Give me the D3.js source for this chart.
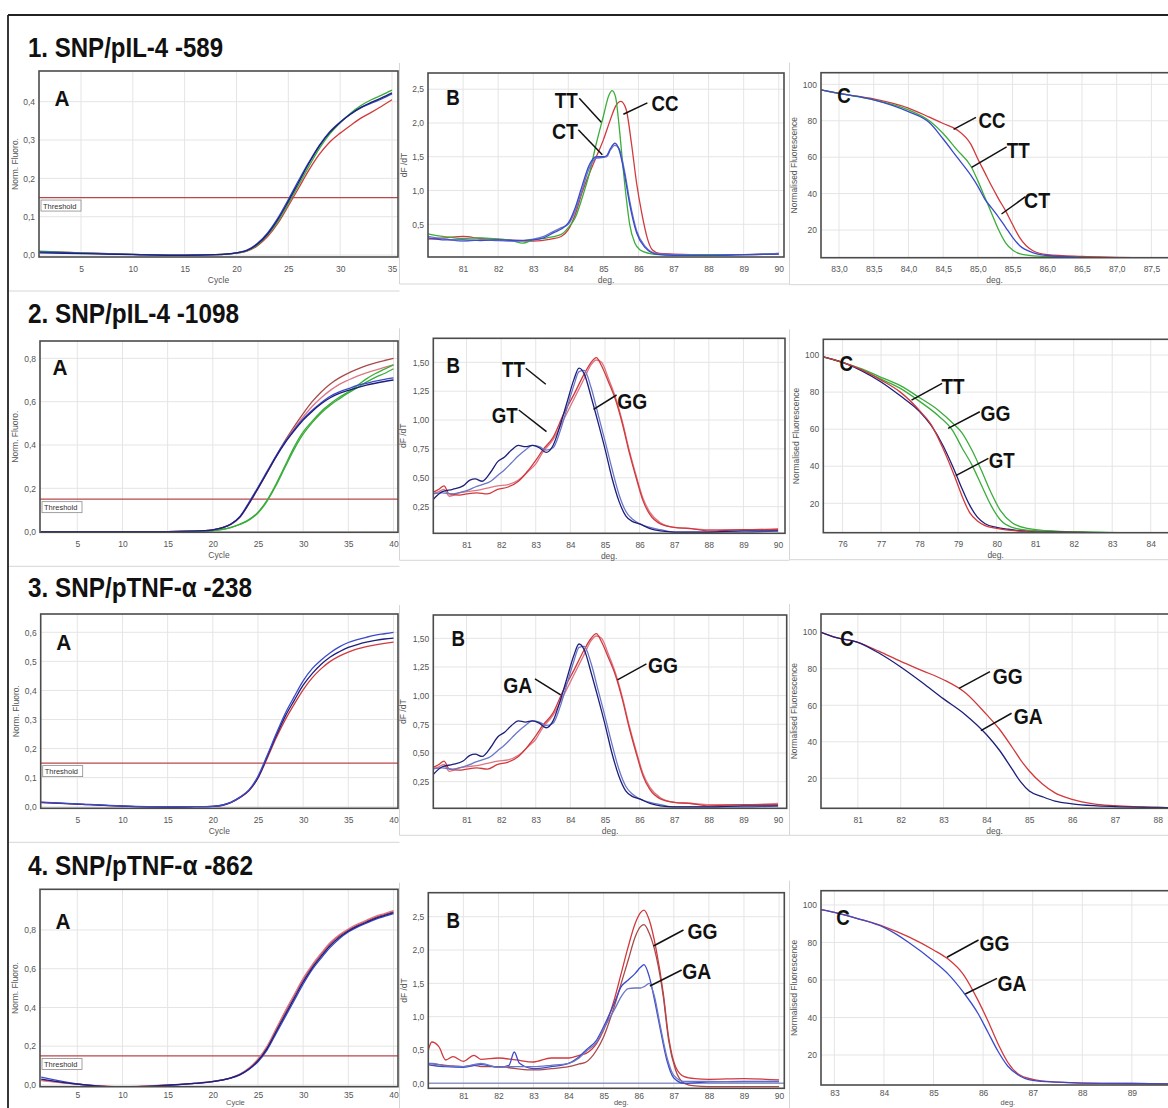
<!DOCTYPE html>
<html>
<head>
<meta charset="utf-8">
<script src="https://cdn.jsdelivr.net/npm/d3@7"></script>
<style>
  body { margin: 0; background: #fff; }
  svg { display: block; }
  .tick text { font-family: "Liberation Sans", Arial, sans-serif; font-size: 8.5px; fill: #555; }
  .axtitle { font-family: "Liberation Sans", Arial, sans-serif; font-size: 8.5px; fill: #555; }
  .big { font-family: "Liberation Sans Narrow", "Arial Narrow", "Liberation Sans", Arial, sans-serif; font-weight: bold; fill: #111; }
</style>
</head>
<body>
<svg id="fig" width="1168" height="1108"></svg>
<script>
// ---- data ----
// amplification (cycle) curves
var r1Cycles = [1,5,10,15,18,20,21,22,23,24,25,26,27,28,29,30,31,32,33,34,35];
var r1aBlue  = [0.008,0.005,0.002,0,0.001,0.006,0.013,0.03,0.058,0.097,0.145,0.195,0.243,0.287,0.322,0.347,0.368,0.384,0.396,0.407,0.42];
var r1aNavy  = [0.006,0.004,0.001,-0.001,0.001,0.006,0.012,0.028,0.055,0.093,0.14,0.19,0.24,0.285,0.32,0.346,0.367,0.385,0.398,0.41,0.423];
var r1aGreen = [0.01,0.006,0.002,0,0.001,0.005,0.011,0.026,0.052,0.088,0.134,0.183,0.232,0.278,0.316,0.345,0.37,0.39,0.405,0.417,0.43];
var r1aRed   = [0.009,0.006,0.002,0,0.001,0.005,0.01,0.024,0.048,0.083,0.128,0.175,0.222,0.263,0.295,0.318,0.338,0.357,0.372,0.388,0.405];

var cycles40 = [1,5,10,15,18,20,21,22,23,24,25,26,27,28,29,30,31,32,33,34,35,36,37,38,39,40];
var r2aBlue1  = [0,0,0,0,0.002,0.008,0.018,0.035,0.07,0.135,0.205,0.278,0.35,0.415,0.47,0.52,0.56,0.595,0.625,0.645,0.66,0.675,0.685,0.695,0.703,0.71];
var r2aBlue2  = [0,0,0,0,0.002,0.008,0.017,0.034,0.068,0.13,0.2,0.272,0.345,0.41,0.465,0.515,0.555,0.59,0.618,0.638,0.652,0.665,0.676,0.685,0.693,0.70];
var r2aRed1   = [0,0,0,0,0.002,0.008,0.017,0.033,0.066,0.128,0.198,0.272,0.348,0.42,0.485,0.545,0.6,0.645,0.682,0.71,0.732,0.75,0.766,0.779,0.79,0.80];
var r2aRed2   = [0,0,0,0,0.002,0.008,0.018,0.035,0.068,0.13,0.2,0.272,0.345,0.415,0.475,0.53,0.578,0.618,0.652,0.68,0.7,0.718,0.733,0.746,0.758,0.77];
var r2aGreen1 = [0,0,0,0,0.001,0.005,0.01,0.02,0.035,0.056,0.09,0.145,0.22,0.305,0.39,0.46,0.51,0.555,0.59,0.62,0.645,0.675,0.705,0.73,0.75,0.77];
var r2aGreen2 = [0,0,0,0,0.001,0.005,0.01,0.019,0.033,0.053,0.086,0.14,0.213,0.297,0.38,0.45,0.503,0.548,0.584,0.613,0.64,0.665,0.69,0.712,0.73,0.752];

var r3aBlue = [0.016,0.01,0.003,0,0,0.001,0.005,0.015,0.033,0.058,0.105,0.175,0.25,0.32,0.378,0.433,0.475,0.505,0.53,0.55,0.565,0.575,0.583,0.59,0.595,0.6];
var r3aNavy = [0.015,0.009,0.002,-0.001,0,0.001,0.005,0.015,0.032,0.056,0.1,0.17,0.243,0.31,0.365,0.418,0.458,0.49,0.515,0.533,0.548,0.558,0.566,0.572,0.577,0.58];
var r3aRed  = [0.014,0.009,0.002,-0.001,0,0.001,0.004,0.014,0.031,0.055,0.098,0.165,0.236,0.298,0.352,0.402,0.443,0.475,0.5,0.518,0.532,0.543,0.551,0.557,0.562,0.566];

var r4aRed  = [0.025,0.005,-0.01,0,0.008,0.018,0.026,0.037,0.055,0.085,0.13,0.195,0.285,0.375,0.46,0.545,0.615,0.675,0.73,0.77,0.8,0.825,0.845,0.865,0.88,0.895];
var r4aPink = [0.022,0.004,-0.009,0,0.008,0.018,0.026,0.037,0.056,0.087,0.134,0.2,0.29,0.38,0.465,0.55,0.62,0.68,0.735,0.775,0.805,0.83,0.85,0.87,0.885,0.9];
var r4aBlue = [0.04,0.005,-0.012,-0.002,0.008,0.017,0.025,0.035,0.052,0.08,0.12,0.18,0.265,0.35,0.435,0.52,0.595,0.655,0.71,0.755,0.79,0.815,0.835,0.855,0.87,0.885];
var r4aNavy = [0.03,0.004,-0.011,-0.001,0.008,0.017,0.025,0.036,0.053,0.082,0.125,0.188,0.275,0.362,0.447,0.532,0.605,0.665,0.72,0.762,0.795,0.82,0.84,0.86,0.875,0.89];

// melt peak (dF/dT) curves
var r1bTTx = [80,80.3,80.6,81,81.5,82,82.4,82.7,83,83.4,83.8,84,84.2,84.4,84.6,84.8,85,85.15,85.25,85.35,85.45,85.55,85.65,85.75,85.9,86.05,86.3,86.6,87,88,89,90];
var r1bTTy = [0.36,0.33,0.31,0.29,0.3,0.28,0.26,0.22,0.27,0.3,0.35,0.45,0.6,0.9,1.25,1.7,2.1,2.4,2.48,2.38,1.95,1.4,0.9,0.5,0.22,0.12,0.07,0.05,0.05,0.05,0.05,0.07];
var r1bCCx = [80,80.5,81,81.5,82,82.5,83,83.5,83.8,84,84.2,84.4,84.6,84.8,85,85.2,85.35,85.5,85.65,85.8,85.95,86.1,86.25,86.4,86.6,87,88,89,90];
var r1bCCy = [0.28,0.3,0.32,0.29,0.28,0.26,0.25,0.28,0.32,0.42,0.65,0.98,1.25,1.5,1.75,2.05,2.25,2.32,2.2,1.7,1.1,0.65,0.3,0.12,0.07,0.06,0.05,0.05,0.06];
var r1bCTx = [80,80.5,81,81.5,82,82.5,83,83.3,83.6,83.8,84,84.2,84.4,84.6,84.8,85,85.1,85.2,85.33,85.45,85.6,85.75,85.95,86.2,86.5,87,88,89,90];
var r1bCTy = [0.3,0.27,0.27,0.26,0.27,0.26,0.27,0.3,0.38,0.43,0.52,0.75,1.08,1.38,1.5,1.5,1.52,1.62,1.7,1.6,1.25,0.8,0.37,0.15,0.06,0.04,0.04,0.05,0.06];
var r1bCT2y = [0.32,0.28,0.25,0.27,0.26,0.25,0.28,0.32,0.4,0.45,0.5,0.7,1.02,1.33,1.48,1.49,1.5,1.6,1.67,1.62,1.3,0.85,0.4,0.17,0.07,0.05,0.04,0.05,0.07];

var meltBlueX = [80,80.3,80.6,80.9,81.1,81.25,81.45,81.7,81.9,82.1,82.3,82.5,82.7,82.9,83.1,83.3,83.5,83.7,83.9,84.1,84.25,84.4,84.6,84.8,85,85.2,85.4,85.6,85.8,86,86.3,86.6,87,88,89,90];
var meltBlue1 = [0.3,0.38,0.4,0.43,0.48,0.49,0.47,0.55,0.64,0.68,0.74,0.78,0.77,0.78,0.76,0.72,0.78,0.95,1.15,1.35,1.45,1.4,1.2,0.98,0.75,0.5,0.3,0.17,0.12,0.1,0.06,0.04,0.03,0.03,0.04,0.04];
var meltBlue2 = [0.36,0.37,0.36,0.38,0.4,0.42,0.44,0.47,0.52,0.57,0.63,0.69,0.74,0.78,0.77,0.74,0.76,0.9,1.1,1.3,1.42,1.43,1.28,1.05,0.82,0.58,0.36,0.21,0.14,0.1,0.07,0.05,0.03,0.03,0.03,0.04];
var meltRedX  = [80,80.2,80.35,80.5,80.8,81,81.3,81.6,81.9,82.2,82.5,82.8,83,83.2,83.5,83.8,84.1,84.4,84.6,84.75,84.9,85.1,85.3,85.5,85.7,85.9,86.1,86.3,86.6,87,87.5,88,89,90];
var meltRed1  = [0.37,0.4,0.43,0.36,0.35,0.36,0.37,0.36,0.4,0.42,0.47,0.57,0.65,0.74,0.85,1.05,1.22,1.4,1.5,1.54,1.47,1.33,1.18,0.97,0.72,0.5,0.3,0.18,0.1,0.07,0.06,0.04,0.05,0.05];
var meltRed2  = [0.36,0.38,0.4,0.34,0.37,0.38,0.39,0.41,0.43,0.44,0.48,0.56,0.62,0.72,0.83,1.0,1.18,1.36,1.48,1.52,1.5,1.36,1.2,0.99,0.74,0.52,0.32,0.2,0.11,0.07,0.06,0.05,0.05,0.06];

var r4bRedX  = [80,80.1,80.3,80.5,80.7,81,81.3,81.5,82,82.5,83,83.5,84,84.3,84.5,84.8,85,85.3,85.5,85.7,85.9,86.05,86.15,86.3,86.5,86.7,86.85,87.05,87.3,87.6,88,89,90];
var r4bRed1  = [0.5,0.62,0.55,0.35,0.4,0.33,0.42,0.36,0.38,0.35,0.32,0.38,0.38,0.42,0.45,0.6,0.8,1.25,1.65,2.05,2.4,2.56,2.6,2.45,2.0,1.35,0.7,0.25,0.1,0.07,0.06,0.07,0.05];
var r4bRed2  = [0.3,0.29,0.28,0.27,0.26,0.25,0.27,0.25,0.25,0.22,0.2,0.22,0.25,0.29,0.32,0.5,0.7,1.15,1.5,1.85,2.2,2.35,2.38,2.25,1.9,1.3,0.65,0.2,0.0,-0.04,-0.05,-0.05,-0.05];
var r4bBlueX = [80,80.1,80.5,81,81.5,82,82.3,82.45,82.6,83,83.5,84,84.3,84.5,84.8,85,85.3,85.5,85.7,85.9,86.05,86.15,86.3,86.45,86.6,86.8,87,87.3,88,89,90];
var r4bBlue1 = [0.28,0.27,0.25,0.24,0.28,0.24,0.27,0.47,0.3,0.22,0.25,0.3,0.4,0.5,0.65,0.85,1.2,1.45,1.55,1.65,1.74,1.78,1.6,1.25,0.85,0.35,0.08,0.0,0.02,0.03,0.03];
var r4bBlue2 = [0.3,0.3,0.26,0.25,0.3,0.24,0.25,0.25,0.25,0.25,0.27,0.3,0.38,0.48,0.62,0.82,1.1,1.3,1.42,1.43,1.43,1.45,1.5,1.3,0.9,0.4,0.12,0.03,0.03,0.02,0.02];

// normalised melt curves
var r1cX  = [82.74,83,83.5,84,84.3,84.5,84.7,84.9,85,85.1,85.2,85.3,85.4,85.5,85.6,85.8,86,86.5,87,87.8];
var r1cCC = [97,95,92,87,82,78.5,75,67,59,51.5,44,37,30.5,23,16,8.5,6.5,5.5,5,4.5];
var r1cTT = [97,95,91.5,86,80,73,64,55,47,38,29,20,13,9,7,5.8,5.5,5,4.7,4.3];
var r1cCT = [97,95,91.5,85,79,70,60,50,44,37,32,27,21.5,16,11.5,7.5,6,5,4.7,4.3];

var r2cX    = [75.5,76,76.5,77,77.5,78,78.3,78.6,78.9,79.1,79.3,79.5,79.7,80,80.3,80.6,81,82,83,84,84.6];
var r2cRed  = [99,96,92,86.5,80,70,62.5,50,35,24,15,10.5,8,6.5,5.5,5,4.5,4.3,4,3.7,3.5];
var r2cBlue = [99,96,91.5,85.5,78,69.5,62,51.5,38,28,19,12.5,9,7,6,5.2,4.6,4.3,4,3.7,3.5];
var r2cGx     = [75.5,76,76.5,77,77.5,78,78.5,78.85,79.1,79.35,79.6,79.85,80.1,80.4,80.8,81.5,82.5,84.6];
var r2cGreen1 = [99,96,92,87,82,75,67,59.5,50,41,30,19,11,7,5.5,4.8,4.3,3.6];
var r2cGreen2 = [99,96,92.5,88,83.5,77,70,63.5,58,49,38,26,16,9.5,6.5,5,4.4,3.6];

var r3cX    = [80.14,80.5,81,81.5,82,82.5,83,83.5,84,84.3,84.6,84.8,85,85.3,85.6,86,86.5,87,88,88.4];
var r3cRed  = [100,97,94.5,89.5,84,79,74,67,55,47,37,30,24,17,12,8.5,6,5,4,3.8];
var r3cBlue = [100,97,94.5,88.5,81,72.5,63.5,55,44,35.5,25,18,13,10,7.5,6,5,4.5,4,3.8];

var r4cX    = [82.73,83,83.5,84,84.5,85,85.3,85.6,85.9,86.1,86.3,86.5,86.7,87,87.5,88,89,89.9];
var r4cRed  = [97.5,96,92.5,88.5,83,76,71,63,49,38,26,16,10,7,5.5,5,4.8,4.5];
var r4cBlue = [97.5,96,92.5,88,80,70,63,53.5,42,32,22,14,9.5,6.5,5.5,5,4.8,4.5];

var titles = ["1. SNP/pIL-4 -589", "2. SNP/pIL-4 -1098", "3. SNP/pTNF-\u03b1 -238", "4. SNP/pTNF-\u03b1 -862"];

// ---- colours ----
var RED = "#d2393c", BROWN = "#a94a4a", PINK = "#dc7684", GREEN = "#3aad3a",
    BLUE = "#3a4acb", NAVY = "#1d1f7a", LBLUE = "#6a76c6";

var melt9 = [81,82,83,84,85,86,87,88,89,90];
var cyc35 = [5,10,15,20,25,30,35], cyc40 = [5,10,15,20,25,30,35,40];
var pct = [20,40,60,80,100];

var panels = [
  { box:[39,71,398,257], xDom:[0.95,35.58], yDom:[-0.005,0.48], xTicks:cyc35, yTicks:[0,0.1,0.2,0.3,0.4], xf:"d", yf:".1f",
    xTitle:"Cycle", yTitle:"Norm. Fluoro.", yto:-21, letter:"A", lp:[23,35], thr:0.15,
    series:[[r1Cycles,r1aRed,RED],[r1Cycles,r1aGreen,GREEN],[r1Cycles,r1aBlue,BLUE],[r1Cycles,r1aNavy,NAVY]], notes:[] },
  { box:[428,73,784,257], xDom:[80,90.15], yDom:[0.016,2.74], xTicks:melt9, yTicks:[0.5,1,1.5,2,2.5], xf:"d", yf:".1f",
    xTitle:"deg.", yTitle:"dF /dT", yto:-21, letter:"B", lp:[25,32],
    series:[[r1bCCx,r1bCCy,RED],[r1bTTx,r1bTTy,GREEN],[r1bCTx,r1bCT2y,LBLUE],[r1bCTx,r1bCTy,BLUE]],
    notes:[{t:"TT",x:84.94,y:2.01,l:[-22,-24],p:[-35,-22.6],w:23},{t:"CC",x:85.57,y:2.13,l:[24,-11.3],p:[41.7,-11],w:27},
           {t:"CT",x:84.97,y:1.53,l:[-24,-25],p:[-37.3,-24],w:26}] },
  { box:[821,72.7,1175,257.7], xDom:[82.74,87.84], yDom:[4.8,106.4], xTicks:[83,83.5,84,84.5,85,85.5,86,86.5,87,87.5], yTicks:pct, xf:".1f", yf:"d",
    xTitle:"deg.", yTitle:"Normalised Fluorescence", yto:-24, letter:"C", lp:[23,30],
    series:[[r1cX,r1cCC,RED],[r1cX,r1cTT,GREEN],[r1cX,r1cCT,BLUE]],
    notes:[{t:"CC",x:84.65,y:75.3,l:[22.4,-12],p:[38.4,-9.6],w:27},{t:"TT",x:84.91,y:54.4,l:[35,-20.6],p:[46.6,-17.6],w:23},
           {t:"CT",x:85.34,y:28.8,l:[24,-17.3],p:[35.6,-14.3],w:26}] },

  { box:[40,341,398,532.3], xDom:[0.87,40.5], yDom:[-0.003,0.88], xTicks:cyc40, yTicks:[0,0.2,0.4,0.6,0.8], xf:"d", yf:".1f",
    xTitle:"Cycle", yTitle:"Norm. Fluoro.", yto:-22, letter:"A", lp:[20,34], thr:0.15,
    series:[[cycles40,r2aRed1,BROWN],[cycles40,r2aRed2,PINK],[cycles40,r2aGreen1,GREEN],[cycles40,r2aGreen2,GREEN],[cycles40,r2aBlue1,BLUE],[cycles40,r2aBlue2,NAVY]], notes:[] },
  { box:[433.3,338.3,785,533.3], xDom:[80.04,90.2], yDom:[0.019,1.708], xTicks:melt9, yTicks:[0.25,0.5,0.75,1,1.25,1.5], xf:"d", yf:".2f",
    xTitle:"deg.", yTitle:"dF /dT", yto:-27, letter:"B", lp:[20,35],
    series:[[meltRedX,meltRed2,PINK],[meltRedX,meltRed1,RED],[meltBlueX,meltBlue2,LBLUE],[meltBlueX,meltBlue1,NAVY]],
    notes:[{t:"TT",x:83.29,y:1.31,l:[-20,-16],p:[-32.4,-15.6],w:23},{t:"GT",x:83.31,y:0.899,l:[-27.7,-21.7],p:[-41.7,-16.4],w:26},
           {t:"GG",x:84.67,y:1.093,l:[23,-14.3],p:[38.6,-8.6],w:30}] },
  { box:[823.3,339.3,1175,532.7], xDom:[75.5,84.63], yDom:[4.14,108.5], xTicks:[76,77,78,79,80,81,82,83,84], yTicks:pct, xf:"d", yf:"d",
    xTitle:"deg.", yTitle:"Normalised Fluorescence", yto:-24, letter:"C", lp:[23,32],
    series:[[r2cGx,r2cGreen2,GREEN],[r2cGx,r2cGreen1,GREEN],[r2cX,r2cBlue,NAVY],[r2cX,r2cRed,RED]],
    notes:[{t:"TT",x:77.79,y:75.7,l:[30.6,-16.7],p:[41.6,-13.7],w:23},{t:"GG",x:78.74,y:60.45,l:[31.7,-16.6],p:[47.4,-15.3],w:30},
           {t:"GT",x:78.94,y:34.9,l:[32.6,-17.4],p:[46,-16],w:26}] },

  { box:[40.7,614,398,808.3], xDom:[0.95,40.5], yDom:[-0.0055,0.663], xTicks:cyc40, yTicks:[0,0.1,0.2,0.3,0.4,0.5,0.6], xf:"d", yf:".1f",
    xTitle:"Cycle", yTitle:"Norm. Fluoro.", yto:-22, letter:"A", lp:[23,36], thr:0.15,
    series:[[cycles40,r3aRed,RED],[cycles40,r3aNavy,NAVY],[cycles40,r3aBlue,BLUE]], notes:[] },
  { box:[433.3,615,786.7,808.3], xDom:[80.04,90.25], yDom:[0.018,1.703], xTicks:melt9, yTicks:[0.25,0.5,0.75,1,1.25,1.5], xf:"d", yf:".2f",
    xTitle:"deg.", yTitle:"dF /dT", yto:-27, letter:"B", lp:[25,31],
    series:[[meltRedX,meltRed2,PINK],[meltRedX,meltRed1,RED],[meltBlueX,meltBlue2,LBLUE],[meltBlueX,meltBlue1,NAVY]],
    notes:[{t:"GA",x:83.72,y:1.006,l:[-25.7,-16],p:[-43,-9.7],w:29},{t:"GG",x:85.36,y:1.137,l:[29,-16],p:[45.6,-14.7],w:30}] },
  { box:[821,614,1175,808.3], xDom:[80.14,88.4], yDom:[3.56,110], xTicks:[81,82,83,84,85,86,87,88], yTicks:pct, xf:"d", yf:"d",
    xTitle:"deg.", yTitle:"Normalised Fluorescence", yto:-24, letter:"C", lp:[26,32],
    series:[[r3cX,r3cRed,RED],[r3cX,r3cBlue,NAVY]],
    notes:[{t:"GG",x:83.36,y:69.3,l:[31,-16.6],p:[48.7,-12],w:30},{t:"GA",x:83.87,y:46.1,l:[30.7,-17.4],p:[47.3,-14.4],w:29}] },

  { box:[40,889.3,398,1086.7], xDom:[0.87,40.5], yDom:[-0.009,1.01], xTicks:cyc40, yTicks:[0,0.2,0.4,0.6,0.8], xf:"d", yf:".1f",
    xTitle:"Cycle", yTitle:"Norm. Fluoro.", yto:-22, letter:"A", lp:[23,40], thr:0.15,
    series:[[cycles40,r4aRed,RED],[cycles40,r4aPink,PINK],[cycles40,r4aBlue,BLUE],[cycles40,r4aNavy,NAVY]], notes:[] },
  { box:[428.3,892.7,784.3,1088.3], xDom:[80,90.15], yDom:[-0.075,2.86], xTicks:melt9, yTicks:[0,0.5,1,1.5,2,2.5], xf:"d", yf:".1f",
    xTitle:"deg.", yTitle:"dF /dT", yto:-21, letter:"B", lp:[25,35], zero:true,
    series:[[r4bRedX,r4bRed1,RED],[r4bRedX,r4bRed2,BROWN],[r4bBlueX,r4bBlue1,BLUE],[r4bBlueX,r4bBlue2,LBLUE]],
    notes:[{t:"GG",x:86.42,y:2.06,l:[30,-16],p:[49,-14.7],w:30},{t:"GA",x:86.32,y:1.46,l:[31.7,-16],p:[46.7,-14.7],w:29}] },
  { box:[821,890.7,1175,1085], xDom:[82.73,89.87], yDom:[4,107.6], xTicks:[83,84,85,86,87,88,89], yTicks:pct, xf:"d", yf:"d",
    xTitle:"deg.", yTitle:"Normalised Fluorescence", yto:-24, letter:"C", lp:[22,34],
    series:[[r4cX,r4cRed,RED],[r4cX,r4cBlue,BLUE]],
    notes:[{t:"GG",x:85.27,y:72.1,l:[31.6,-17.3],p:[47.6,-14.3],w:30},{t:"GA",x:85.64,y:52.5,l:[31.7,-15.7],p:[46.7,-11],w:29}] }
];

var titleY = [57, 323, 597, 875], titleW = [195, 211, 224, 225];

var svg = d3.select("#fig");
svg.append("rect").attr("width", 1168).attr("height", 1108).attr("fill", "#fff");

function commaFmt(f) {
  var fm = d3.format(f);
  return function(v) { return fm(v).replace(".", ","); };
}

// faint screenshot borders round each panel
panels.forEach(function(p, i) {
  var col = i % 3, B = p.box[3], T = p.box[1];
  var x0 = [8, 399.5, 789.5][col], x1 = [399.5, 789.5, 1168][col];
  var bot = B + (col == 0 ? 34 : 27);
  var f = svg.append("g").attr("stroke", "#d6d6d6").attr("fill", "none");
  f.append("line").attr("x1", x0).attr("x2", x1).attr("y1", bot).attr("y2", bot);
  if (col > 0) f.append("line").attr("x1", x0).attr("x2", x0).attr("y1", T - 10).attr("y2", bot);
});

panels.forEach(function(p, i) {
  var L = p.box[0], T = p.box[1], R = p.box[2], B = p.box[3];
  var x = d3.scaleLinear().domain(p.xDom).range([L, R]);
  var y = d3.scaleLinear().domain(p.yDom).range([B, T]);
  var g = svg.append("g");
  var cid = "clip" + i;

  svg.append("clipPath").attr("id", cid)
    .append("rect").attr("x", L).attr("y", T).attr("width", R - L).attr("height", B - T);

  // grid
  g.selectAll(".vg").data(p.xTicks).enter().append("line")
    .attr("x1", function(d) { return x(d); }).attr("x2", function(d) { return x(d); })
    .attr("y1", T).attr("y2", B).attr("stroke", "#e5e5e5");
  g.selectAll(".hg").data(p.yTicks).enter().append("line")
    .attr("x1", L).attr("x2", R)
    .attr("y1", function(d) { return y(d); }).attr("y2", function(d) { return y(d); })
    .attr("stroke", "#e5e5e5");

  // the bottom row sits against the page edge, so its labels ride a bit higher
  var lastRow = B > 1000;
  g.append("g").attr("transform", "translate(0," + B + ")")
    .call(d3.axisBottom(x).tickValues(p.xTicks).tickFormat(commaFmt(p.xf)).tickSize(0).tickPadding(lastRow ? 5 : 8.5))
    .call(function(a) { a.select(".domain").remove(); });
  g.append("g").attr("transform", "translate(" + L + ",0)")
    .call(d3.axisLeft(y).tickValues(p.yTicks).tickFormat(commaFmt(p.yf)).tickSize(0).tickPadding(4))
    .call(function(a) { a.select(".domain").remove(); });

  // axis titles; on the bottom row put it in the gap between two tick labels
  var tx0 = (L + Math.min(R, 1168)) / 2;
  if (lastRow) {
    var right = p.xTicks.filter(function(t) { return x(t) > tx0; })[0];
    var left = p.xTicks.filter(function(t) { return x(t) <= tx0; }).pop();
    tx0 = (x(left) + x(right)) / 2;
  }
  g.append("text").attr("class", "axtitle").attr("text-anchor", "middle")
    .attr("x", tx0).attr("y", lastRow ? 1105 : B + 25.5)
    .style("font-size", lastRow ? "7.5px" : null)
    .text(p.xTitle);
  g.append("text").attr("class", "axtitle").attr("text-anchor", "middle")
    .attr("transform", "translate(" + (L + p.yto) + "," + ((T + B) / 2) + ") rotate(-90)")
    .text(p.yTitle);

  var cg = g.append("g").attr("clip-path", "url(#" + cid + ")");

  if (p.thr != null) {
    cg.append("line").attr("x1", L).attr("x2", R).attr("y1", y(p.thr)).attr("y2", y(p.thr))
      .attr("stroke", "#b9474a").attr("stroke-width", 1.2);
  }
  if (p.zero) {
    cg.append("line").attr("x1", L).attr("x2", R).attr("y1", y(0)).attr("y2", y(0))
      .attr("stroke", "#9097c6").attr("stroke-width", 1.6);
  }

  var line = d3.line()
    .x(function(d) { return x(d[0]); })
    .y(function(d) { return y(d[1]); })
    .curve(d3.curveMonotoneX);

  p.series.forEach(function(s) {
    cg.append("path").datum(d3.zip(s[0], s[1]))
      .attr("d", line).attr("fill", "none")
      .attr("stroke", s[2]).attr("stroke-width", 1.3);
  });

  g.append("rect").attr("x", L).attr("y", T).attr("width", R - L).attr("height", B - T)
    .attr("fill", "none").attr("stroke", "#4b4b4b").attr("stroke-width", 1.6);

  if (p.thr != null) {
    var ty = y(p.thr);
    g.append("rect").attr("x", L + 2).attr("y", ty + 2.5).attr("width", 40).attr("height", 11)
      .attr("fill", "#fff").attr("stroke", "#8a8a8a").attr("stroke-width", 0.8);
    g.append("text").attr("class", "axtitle").attr("x", L + 4).attr("y", ty + 11)
      .style("font-size", "7.5px").style("fill", "#333").text("Threshold");
  }

  // panel letter
  g.append("text").attr("class", "big").attr("text-anchor", "middle")
    .attr("x", L + p.lp[0]).attr("y", T + p.lp[1]).style("font-size", "22px")
    .attr("textLength", p.letter == "A" ? 15 : 13.5).attr("lengthAdjust", "spacingAndGlyphs")
    .text(p.letter);

  // genotype call-outs
  p.notes.forEach(function(n) {
    var tx = x(n.x), ty = y(n.y);
    g.append("line").attr("x1", tx).attr("y1", ty).attr("x2", tx + n.l[0]).attr("y2", ty + n.l[1])
      .attr("stroke", "#111").attr("stroke-width", 1.5);
    g.append("text").attr("class", "big").attr("text-anchor", "middle")
      .attr("x", tx + n.p[0]).attr("y", ty + n.p[1] + 8).style("font-size", "22px")
      .attr("textLength", n.w).attr("lengthAdjust", "spacingAndGlyphs")
      .text(n.t);
  });
});

// row titles
titles.forEach(function(t, i) {
  svg.append("text").attr("class", "big").attr("x", 28).attr("y", titleY[i])
    .style("font-size", "28px").attr("textLength", titleW[i]).attr("lengthAdjust", "spacingAndGlyphs")
    .text(t);
});

// outer frame (left and top edges)
svg.append("line").attr("x1", 8).attr("x2", 8).attr("y1", 15).attr("y2", 1108).attr("stroke", "#222").attr("stroke-width", 1.8);
svg.append("line").attr("x1", 8).attr("x2", 1168).attr("y1", 15).attr("y2", 15).attr("stroke", "#222").attr("stroke-width", 1.8);
</script>
</body>
</html>
